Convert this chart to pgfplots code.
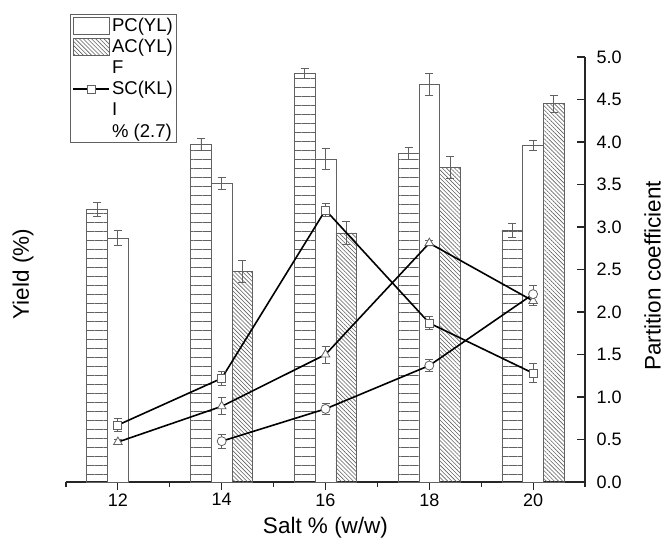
\documentclass[border=0pt]{standalone}
\usepackage{fontspec}
\setmainfont{Liberation Sans}
\usepackage{pgfplots}
\pgfplotsset{compat=1.18}
\usetikzlibrary{patterns.meta}
\colorlet{barline}{black!62}
\newcommand{\lgfont}{\fontsize{18.5}{21}\selectfont}
\begin{document}
\begin{tikzpicture}
\path[use as bounding box] (-66pt,-64pt) rectangle (601pt,482pt);
\begin{axis}[
  scale only axis,
  width=519pt, height=425pt,
  xmin=11, xmax=21, ymin=0, ymax=5,
  axis x line*=bottom, axis y line*=right,
  axis line style={line width=1.2pt, black!85},
  xtick={12,14,16,18,20},
  minor xtick={11,13,15,17,19,21},
  ytick={0,0.5,1,1.5,2,2.5,3,3.5,4,4.5,5},
  tick align=outside,
  major tick length=8pt, minor tick length=5pt,
  tick style={line width=1.2pt, black!85},
  y tick style={xshift=-8pt},
  tick label style={font=\fontsize{18}{21}\selectfont},
  yticklabel style={/pgf/number format/fixed, /pgf/number format/fixed zerofill,
                    /pgf/number format/precision=1},
  /pgf/number format/assume math mode=true,
  xlabel={Salt \% (w/w)},
  xlabel style={font=\fontsize{22.5}{26}\selectfont, at={(axis description cs:0.5,-0.108)}, anchor=center},
  ylabel={Partition coefficient},
  ylabel style={font=\fontsize{22.5}{26}\selectfont, at={(axis description cs:1.13,0.485)}, anchor=center},
  clip=false,
  legend style={at={(axis description cs:0.008,1.101)}, anchor=north west,
    draw=barline, line width=0.7pt, font=\lgfont,
    inner xsep=2pt, inner ysep=1.5pt, row sep=2.5pt},
  legend cell align=left,
  error bars/error mark=|,
  error bars/error bar style={line width=0.8pt, barline},
  error bars/error mark options={line width=0.8pt, barline, mark size=4pt},
]
% horizontal-line bars (centred 0.4 left of each salt value)
\addplot[forget plot, ybar, bar width=0.4, bar shift=0, draw=barline, line width=0.7pt,
  pattern={Lines[angle=0,distance=9pt,line width=0.8pt]}, pattern color=barline,
  error bars/.cd, y dir=both, y explicit]
  coordinates {(11.6,3.21) +- (0,0.08) (13.6,3.97) +- (0,0.07) (15.6,4.81) +- (0,0.06)
               (17.6,3.87) +- (0,0.07) (19.6,2.96) +- (0,0.08)};
% open bars
\addplot[forget plot, ybar, bar width=0.4, bar shift=0, draw=barline, line width=0.7pt, fill=white,
  error bars/.cd, y dir=both, y explicit]
  coordinates {(12,2.87) +- (0,0.09) (14,3.51) +- (0,0.07) (16,3.80) +- (0,0.12)
               (18,4.68) +- (0,0.13) (20,3.96) +- (0,0.06)};
% hatched bars (centred 0.4 right of each salt value)
\addplot[forget plot, ybar, bar width=0.4, bar shift=0, draw=barline, line width=0.7pt,
  pattern={Lines[angle=-45,distance=2.9pt,line width=0.6pt]}, pattern color=barline,
  error bars/.cd, y dir=both, y explicit]
  coordinates {(14.4,2.48) +- (0,0.13) (16.4,2.93) +- (0,0.14)
               (18.4,3.70) +- (0,0.13) (20.4,4.45) +- (0,0.10)};
% lines
\addplot[forget plot, black, line width=1.6pt, mark=square*, mark size=4pt,
  mark options={fill=white, draw=barline, line width=0.8pt}]
  coordinates {(12,0.67) (14,1.22) (16,3.20) (18,1.87) (20,1.28)};
\addplot[forget plot, black, line width=1.6pt, mark=triangle*, mark size=5pt,
  mark options={fill=white, draw=barline, line width=0.8pt}]
  coordinates {(12,0.47) (14,0.89) (16,1.50) (18,2.81) (20,2.13)};
\addplot[forget plot, black, line width=1.6pt, mark=*, mark size=4.5pt,
  mark options={fill=white, draw=barline, line width=0.8pt}]
  coordinates {(14,0.48) (16,0.86) (18,1.37) (20,2.21)};
% error bars of the lines
\addplot[forget plot, draw=none, mark=none, error bars/.cd, y dir=both, y explicit]
  coordinates {(12,0.67) +- (0,0.08) (14,1.22) +- (0,0.08) (16,3.20) +- (0,0.08)
               (18,1.87) +- (0,0.08) (20,1.28) +- (0,0.11)};
\addplot[forget plot, draw=none, mark=none, error bars/.cd, y dir=both, y explicit]
  coordinates {(12,0.47) +- (0,0.03) (14,0.89) +- (0,0.10) (16,1.50) +- (0,0.10)
               (18,2.81) +- (0,0.03) (20,2.13) +- (0,0.05)};
\addplot[forget plot, draw=none, mark=none, error bars/.cd, y dir=both, y explicit]
  coordinates {(14,0.48) +- (0,0.08) (16,0.86) +- (0,0.07)
               (18,1.37) +- (0,0.07) (20,2.21) +- (0,0.10)};
% legend
\addlegendimage{legend image code/.code={\draw[barline, line width=0.7pt, fill=white] (0pt,-8.5pt) rectangle (36pt,8.5pt);}}
\addlegendentry{PC(YL)}
\addlegendimage{legend image code/.code={\draw[barline, line width=0.7pt,
  pattern={Lines[angle=-45,distance=2.9pt,line width=0.6pt]}, pattern color=barline] (0pt,-8.5pt) rectangle (36pt,8.5pt);}}
\addlegendentry{AC(YL)}
\addlegendimage{empty legend}
\addlegendentry{F}
\addlegendimage{legend image code/.code={\draw[black, line width=1.6pt] (0pt,0pt) -- (36pt,0pt);
  \draw[barline, line width=0.8pt, fill=white] (14pt,-4pt) rectangle (22pt,4pt);}}
\addlegendentry{SC(KL)}
\addlegendimage{empty legend}
\addlegendentry{I}
\addlegendimage{empty legend}
\addlegendentry{\% (2.7)}
\end{axis}
\node[rotate=90, font=\fontsize{22.5}{26}\selectfont] at (-43pt,208pt) {Yield (\%)};
\end{tikzpicture}
\end{document}
